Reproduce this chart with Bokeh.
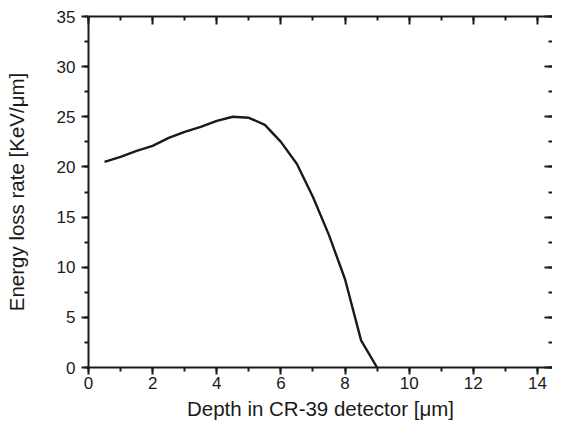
from bokeh.plotting import figure
from bokeh.models import Range1d, LinearAxis, SingleIntervalTicker, CustomJSTickFormatter
from bokeh.embed import file_html
from bokeh.resources import INLINE

depth_um = [0.5, 1.0, 1.5, 2.0, 2.5, 3.0, 3.5, 4.0, 4.5, 5.0, 5.5, 6.0, 6.5, 7.0, 7.5, 8.0, 8.5, 9.0]
energy_loss = [20.5, 21.0, 21.6, 22.1, 22.9, 23.5, 24.0, 24.6, 25.0, 24.9, 24.2, 22.5, 20.3, 17.0, 13.2, 8.8, 2.7, 0.0]

x_label = "Depth in CR-39 detector [μm]"
y_label = "Energy loss rate [KeV/μm]"

FONT = "Liberation Sans"
INK = "#1a1a1a"

p = figure(width=552, height=422, output_backend="svg", toolbar_location=None,
           x_range=Range1d(0, 14.47), y_range=Range1d(0, 35),
           x_axis_location=None, y_axis_location=None,
           min_border_left=88, min_border_right=0, min_border_top=16, min_border_bottom=0)
p.outline_line_color = None
p.xgrid.visible = False
p.ygrid.visible = False
p.background_fill_color = "white"
p.border_fill_color = "white"

def style(ax, inward, labels):
    ax.axis_line_width = 2
    ax.axis_line_color = INK
    ax.major_tick_line_width = 2
    ax.minor_tick_line_width = 2
    ax.major_tick_line_color = INK
    ax.minor_tick_line_color = INK
    if inward:
        ax.major_tick_in = 8
        ax.major_tick_out = 0
        ax.minor_tick_in = 4
        ax.minor_tick_out = 0
    else:
        ax.major_tick_in = 0
        ax.major_tick_out = 7
        ax.minor_tick_in = 0
        ax.minor_tick_out = 4
    if not labels:
        ax.formatter = CustomJSTickFormatter(code="return ''")
        ax.major_label_text_font_size = "0px"
        ax.major_label_standoff = 0
    else:
        ax.major_label_text_font = FONT
        ax.major_label_text_font_size = "17px"
        ax.major_label_text_color = INK
        ax.axis_label_text_font = FONT
        ax.axis_label_text_font_size = "20.5px"
        ax.axis_label_text_font_style = "normal"
        ax.axis_label_text_color = INK

xt = lambda: SingleIntervalTicker(interval=2, num_minor_ticks=2)
yt = lambda: SingleIntervalTicker(interval=5, num_minor_ticks=2)

bottom = LinearAxis(ticker=xt(), axis_label=x_label)
style(bottom, False, True)
bottom.major_label_standoff = 2
bottom.axis_label_standoff = 5
left = LinearAxis(ticker=yt(), axis_label=y_label)
style(left, False, True)
left.major_label_standoff = 6
left.axis_label_standoff = 26
top = LinearAxis(ticker=xt())
style(top, True, False)
right = LinearAxis(ticker=yt())
style(right, True, False)
right.axis_line_color = None

p.add_layout(bottom, "below")
p.add_layout(left, "left")
p.add_layout(top, "above")
p.add_layout(right, "right")

p.line(depth_um, energy_loss, line_width=2.4, line_color=INK, line_join="round")

open("out.html", "w").write(file_html(p, INLINE))
